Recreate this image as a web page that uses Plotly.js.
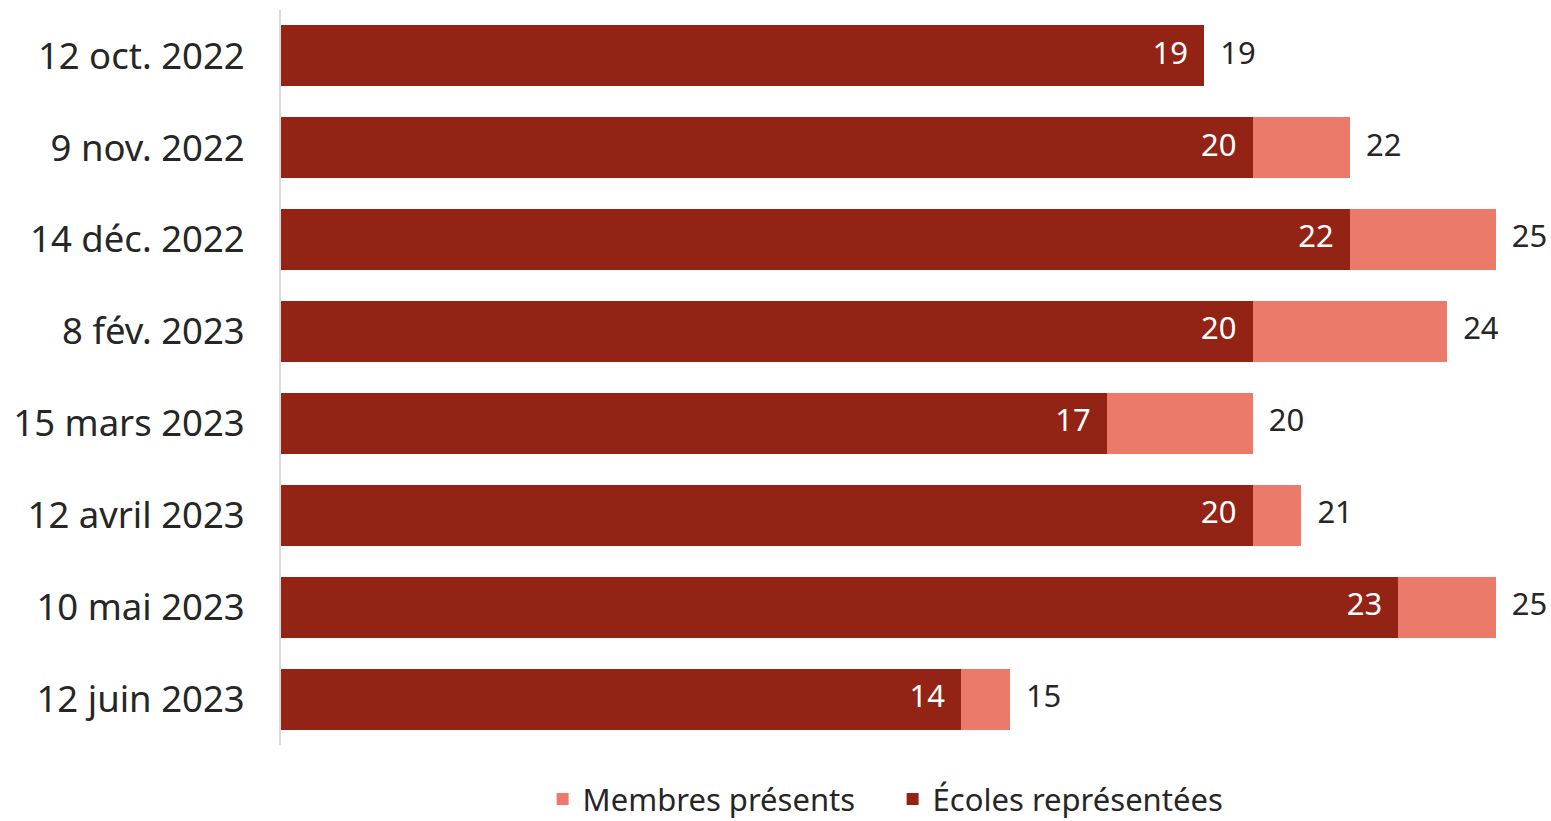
<!DOCTYPE html>
<html>
<head>
<meta charset="utf-8">
<script src="https://cdn.plot.ly/plotly-3.0.1.min.js"></script>
<style>html,body{margin:0;padding:0;background:#fff;}#chart{width:1551px;height:821px;}</style>
</head>
<body>
<div id="chart"></div>
<script>
const dates = ["12 oct. 2022","9 nov. 2022","14 déc. 2022","8 fév. 2023","15 mars 2023","12 avril 2023","10 mai 2023","12 juin 2023"];
const ecoles = [19,20,22,20,17,20,23,14];
const membres = [19,22,25,24,20,21,25,15];

const DARK = "#922315";
const LIGHT = "#EB7A6A";
const FONT = "Noto Sans, sans-serif";

const extra = membres.map((m,i)=>m-ecoles[i]);

const traces = [
  {
    type:"bar", orientation:"h", name:"Écoles représentées",
    y:dates, x:ecoles,
    marker:{color:DARK},
    hoverinfo:"skip"
  },
  {
    type:"bar", orientation:"h", name:"Membres présents",
    y:dates, x:extra,
    marker:{color:LIGHT},
    hoverinfo:"skip"
  },
  {
    type:"scatter", mode:"text", showlegend:false,
    y:dates, x:ecoles,
    text:ecoles.map(v=>String(v)+"\u00A0\u00A0"),
    textposition:"middle left",
    textfont:{family:FONT,size:31,color:"#ffffff"},
    cliponaxis:false, hoverinfo:"skip"
  },
  {
    type:"scatter", mode:"text", showlegend:false,
    y:dates, x:membres,
    text:membres.map(v=>"\u00A0\u00A0"+String(v)),
    textposition:"middle right",
    textfont:{family:FONT,size:31,color:"#262626"},
    cliponaxis:false, hoverinfo:"skip"
  }
];

const layout = {
  width:1551, height:821,
  margin:{l:281, r:0, t:10, b:76, autoexpand:false},
  paper_bgcolor:"#ffffff", plot_bgcolor:"#ffffff",
  barmode:"stack", bargap:0.335,
  font:{family:FONT, color:"#262626"},
  showlegend:true,
  legend:{orientation:"h", traceorder:"reversed", x:0.206, xanchor:"left", y:-0.074, yanchor:"middle",
          font:{family:FONT,size:31,color:"#262626"}, entrywidth:305, entrywidthmode:"pixels"},
  xaxis:{range:[0,26.14], visible:false, fixedrange:true},
  yaxis:{type:"category", categoryorder:"array", categoryarray:dates, autorange:"reversed",
         showline:true, linecolor:"#d9d9d9", linewidth:2, showgrid:false, zeroline:false,
         ticks:"", ticklabelstandoff:27,
         tickfont:{family:FONT,size:36.5,color:"#262626"}}
};

Plotly.newPlot("chart", traces, layout, {displayModeBar:false, staticPlot:true});
</script>
</body>
</html>
